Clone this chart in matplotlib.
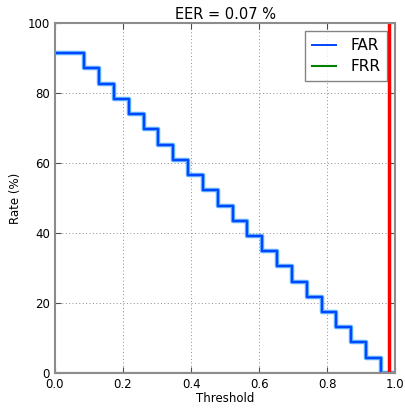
import matplotlib
matplotlib.use("Agg")
import matplotlib.pyplot as plt

# thresholds where FAR steps down, and the FAR level (%) after each step
thresholds = [0.0, 0.087, 0.130, 0.174, 0.217, 0.261, 0.304, 0.348, 0.391,
              0.435, 0.478, 0.522, 0.565, 0.609, 0.652, 0.696, 0.739, 0.783,
              0.826, 0.870, 0.913, 0.957, 1.0]
far = [91.3, 87.0, 82.6, 78.3, 73.9, 69.6, 65.2, 60.9, 56.5, 52.2, 47.8, 43.5,
       39.1, 34.8, 30.4, 26.1, 21.7, 17.4, 13.0, 8.7, 4.3, 0.0, 0.0]
frr_x = [0.0, 1.0]
frr = [0.0, 0.0]
eer_threshold = 0.98
eer = 0.07

fig = plt.figure(figsize=(4.06, 4.08), dpi=100)
ax = fig.add_axes([0.135, 0.086, 0.839, 0.858])

ax.plot(thresholds, far, drawstyle="steps-post", color="#55aaff", lw=3.2)
ax.plot(thresholds, far, drawstyle="steps-post", color="#0044ff", lw=1.4, label="FAR")
ax.plot(frr_x, frr, color="#008000", lw=1.5, label="FRR")
ax.axvline(eer_threshold, color="red", lw=2.5)

ax.set_xlim(0, 1)
ax.set_ylim(0, 100)
ax.set_xticks([0.0, 0.2, 0.4, 0.6, 0.8, 1.0])
ax.set_yticks([0, 20, 40, 60, 80, 100])
ax.tick_params(direction="in", top=True, right=True, labelsize=8.5, length=4,
               color="0.3")
ax.grid(True, linestyle=(0, (1, 2.5)), color="0.55", lw=0.7)
for s in ax.spines.values():
    s.set_color("0.55")
    s.set_linewidth(1.5)

ax.set_xlabel("Threshold", fontsize=8.5, labelpad=1)
ax.set_ylabel("Rate (%)", fontsize=8.5)
ax.set_title(f"EER = {eer} %", fontsize=10.5, pad=3)
leg = ax.legend(loc="upper right", fontsize=11, fancybox=False, handlelength=1.6,
                borderpad=0.45, labelspacing=0.4, handletextpad=0.9,
                borderaxespad=0.55)
leg.get_frame().set_edgecolor("0.4")
leg.get_frame().set_linewidth(1.0)

fig.savefig("out.png", dpi=100)
